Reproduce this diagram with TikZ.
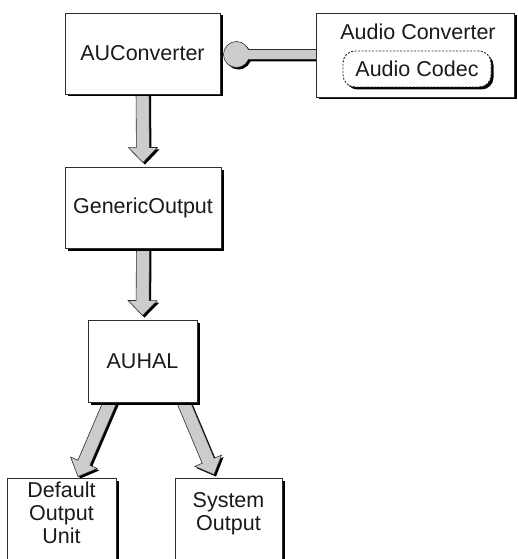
\documentclass[tikz,border=0pt]{standalone}
\usepackage{fontspec}
\setmainfont{Liberation Sans}
\usetikzlibrary{shadows,calc,backgrounds}
\definecolor{arrowgrey}{HTML}{CCCCCC}
\definecolor{inkline}{HTML}{2E2E2E}
\definecolor{textink}{HTML}{1A1A1A}

% block arrow from #2 to the tip #3, drawn with style #1
\newcommand\blockarrow[3]{%
  \coordinate (headbase) at ($(#3)!15pt!(#2)$);
  \path[#1] ($(#2)!6.5pt!90:(#3)$) -- ($(headbase)!6.5pt!90:(#3)$)
    -- ($(headbase)!14.5pt!90:(#3)$) -- (#3)
    -- ($(headbase)!14.5pt!-90:(#3)$) -- ($(headbase)!6.5pt!-90:(#3)$)
    -- ($(#2)!6.5pt!-90:(#3)$) -- cycle;%
}
% shaded block arrow with its offset shadow
\newcommand\flowarrow[2]{%
  \begin{scope}[transform canvas={shift={(2pt,-2pt)}}]
    \blockarrow{fill=black}{#1}{#2}
  \end{scope}
  \blockarrow{arrowbody}{#1}{#2}%
}

\begin{document}
\begin{tikzpicture}[x=1pt,y=-1pt,
  font=\fontsize{21.5}{23}\selectfont,
  box/.style={draw=inkline, line width=0.9pt, fill=white, inner sep=0pt,
    text=textink,
    drop shadow={shadow xshift=2.5pt, shadow yshift=-2.5pt, fill=black, opacity=1}},
  arrowbody/.style={fill=arrowgrey, draw=inkline, line width=0.6pt, line join=miter},
  plain/.style={text=textink, inner sep=0pt}]

\clip (0,0) rectangle (517,559);

% units
\node[box, minimum width=155, minimum height=81] (auc) at (142.5,53.5) {AUConverter};
\node[box, minimum width=198, minimum height=84] (aconv) at (415,55) {};
\node[plain] (aconvlabel) at (418,32) {Audio Converter};
\node[box, rounded corners=12pt, dash pattern=on 2pt off 1.5pt,
      minimum width=148, minimum height=36] (codec) at (417,69) {Audio Codec};
\node[box, minimum width=156, minimum height=81] (gen) at (143,207.5) {GenericOutput};
\node[box, minimum width=109, minimum height=82] (auhal) at (142.5,361) {AUHAL};
\node[box, minimum width=109, minimum height=100] (dou) at (61.5,528) {};
\node[box, minimum width=107, minimum height=100] (sysout) at (228.5,528) {};
\node[plain, align=center] (doutxt) at ($(dou.north)+(0,35)$) {Default\\Output\\Unit};
\node[plain, align=center] (systxt) at ($(sysout.north)+(0,36)$) {System\\Output};

% connection points
\coordinate (a1s) at ($(auc.south)+(0,-4)$);
\coordinate (a1t) at ($(gen.north)+(0,-4)$);
\coordinate (a2s) at ($(gen.south)+(0,-4)$);
\coordinate (a2t) at ($(auhal.north)+(0,-4)$);
\coordinate (a3s) at ($(auhal.south)+(-31,-4)$);
\coordinate (a3t) at ($(dou.north)+(16.5,-1)$);
\coordinate (a4s) at ($(auhal.south)+(39.5,-4)$);
\coordinate (a4t) at ($(sysout.north)+(-14.5,-3)$);
\coordinate (ballc) at ($(auc.east)+(16,1)$);
\coordinate (barend) at ($(ballc -| aconv.west)+(4,0)$);

\begin{scope}[on background layer]
  \flowarrow{a1s}{a1t}
  \flowarrow{a2s}{a2t}
  \flowarrow{a3s}{a3t}
  \flowarrow{a4s}{a4t}
  % ball-and-bar link between the converter unit and the audio converter
  \begin{scope}[transform canvas={shift={(2pt,-2pt)}}]
    \fill[black] ($(ballc)+(22.6:13)$) arc[start angle=22.6, end angle=337.4, radius=13]
      -- ($(barend)+(0,-5)$) -- ($(barend)+(0,5)$) -- cycle;
  \end{scope}
  \path[arrowbody] ($(ballc)+(22.6:13)$) arc[start angle=22.6, end angle=337.4, radius=13]
    -- ($(barend)+(0,-5)$) -- ($(barend)+(0,5)$) -- cycle;
\end{scope}
\end{tikzpicture}
\end{document}
